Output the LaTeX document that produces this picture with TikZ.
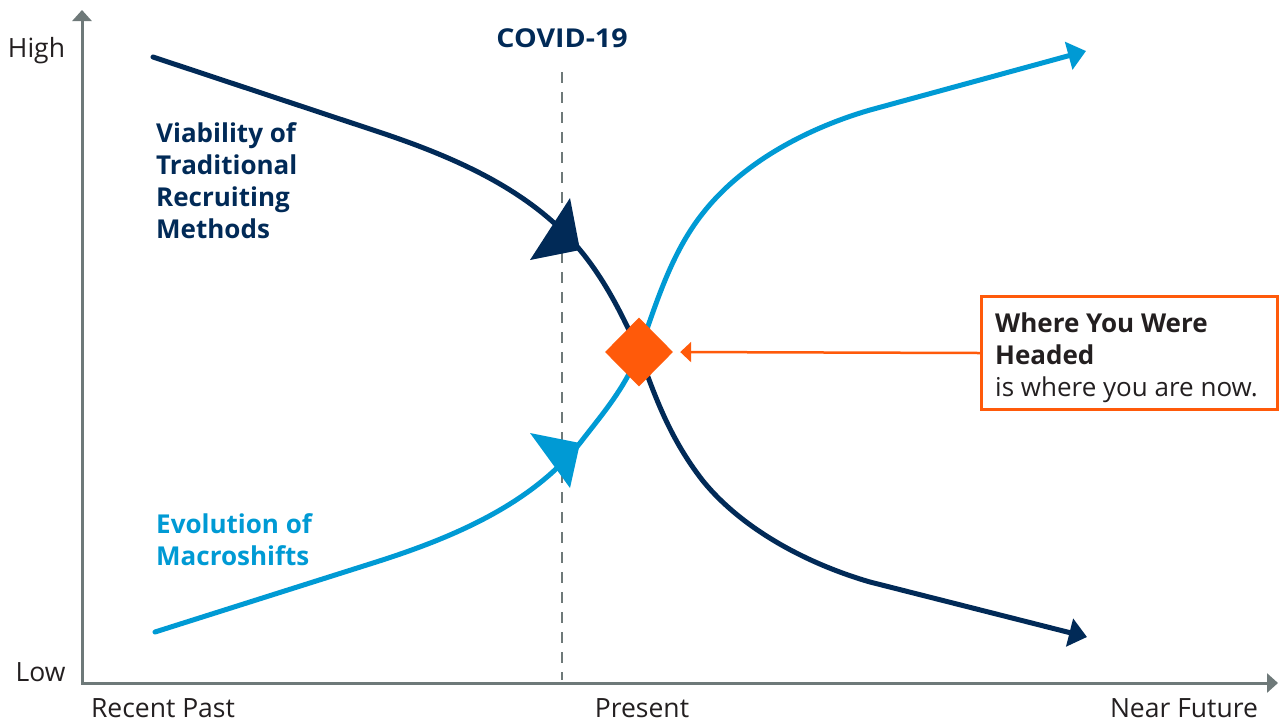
\documentclass[tikz,border=0pt]{standalone}
\usepackage{fontspec}
\setmainfont{Open Sans}
\newfontfamily\widefont[FakeStretch=1.1]{Open Sans}
\usetikzlibrary{arrows.meta,shapes.geometric}
\definecolor{navy}{HTML}{012A57}
\definecolor{sky}{HTML}{009AD4}
\definecolor{orng}{HTML}{FF5A0A}
\definecolor{axisgray}{HTML}{6E7979}
\definecolor{txt}{HTML}{231F20}
\begin{document}
\begin{tikzpicture}[x=1pt,y=-1pt,
  axis/.style={axisgray, line width=3pt, {Triangle[length=11pt,width=19pt]}-{Triangle[length=11pt,width=19pt]}},
  curve/.style={line width=5pt, line cap=round},
  endtip/.style={-{Triangle[length=18pt,width=28pt]}},
  lbl/.style={anchor=base west, inner sep=0pt, align=left, font=\fontsize{26}{32}\selectfont\bfseries},
  axlbl/.style={anchor=base, inner sep=0pt, text=txt, font=\fontsize{26.5}{28}\selectfont},
  boxtext/.style={anchor=base west, inner sep=0pt, align=left, text=txt, font=\fontsize{26}{32}\selectfont}]
\useasboundingbox (0,0) rectangle (1284,721);
% axes
\coordinate (O) at (82,683);
\coordinate (ytop) at (82,10);
\coordinate (xend) at (1278,683);
\draw[axis] (ytop) -- (O) -- (xend);
\node[axlbl] (high) at (36.5,57) {High};
\node[axlbl] (low) at (40.5,681) {Low};
\node[axlbl] (past) at (163,717) {Recent Past};
\node[axlbl] (present) at (642,717) {Present};
\node[axlbl] (future) at (1184,717) {Near Future};
% covid line
\coordinate (ctop) at (562,72);
\coordinate (cbot) at (562,680);
\draw[axisgray, line width=2.5pt, dash pattern=on 11pt off 9pt] (ctop) -- (cbot);
\node[anchor=base, inner sep=0pt, text=navy, font=\widefont\fontsize{26}{28}\selectfont\bfseries] (covid) at (562,47) {COVID-19};
% curves
\coordinate (dstart) at (153,57);
\coordinate (dend) at (1087,637);
\coordinate (bstart) at (155,632);
\coordinate (bend) at (1086,51);
\coordinate (mid) at (639,352);
\draw[navy, curve, endtip] (dstart) -- (373,130)
  .. controls (449,155) and (529,188) .. (580,250)
  .. controls (605,280) and (623,316) .. (mid)
  .. controls (656,400) and (671,440) .. (703,481)
  .. controls (743,530) and (808,564) .. (870,582) -- (dend);
\draw[sky, curve, endtip] (bstart) -- (373,563)
  .. controls (449,539) and (530,506) .. (580,443)
  .. controls (604,412) and (625,388) .. (mid)
  .. controls (656,304) and (671,253) .. (703,213)
  .. controls (743,162) and (808,128) .. (870,110) -- (bend);
\fill[navy] (570,198) -- (580,250) -- (530,260) -- cycle;
\fill[sky] (530,433) -- (580,443) -- (570,488) -- cycle;
% labels
\node[lbl, text=navy] (viab) at (156,238) {Viability of\\Traditional\\Recruiting\\Methods};
\node[lbl, text=sky] (evol) at (156,565) {Evolution of\\Macroshifts};
% diamond and callout
\node[diamond, fill=orng, minimum width=68pt, minimum height=69pt, inner sep=0pt] (d) at (mid) {};
\node[draw=orng, line width=3pt, minimum width=296pt, minimum height=113pt, anchor=north west, inner sep=0pt] (box) at (980,295) {};
\node[boxtext] (boxtxt) at (995,396) {\textbf{Where You Were}\\\textbf{Headed}\\is where you are now.};
\draw[orng, line width=2.5pt, -{Triangle[length=11pt,width=20pt]}, shorten >=7pt] (box.west) -- (d.east);
\end{tikzpicture}
\end{document}
